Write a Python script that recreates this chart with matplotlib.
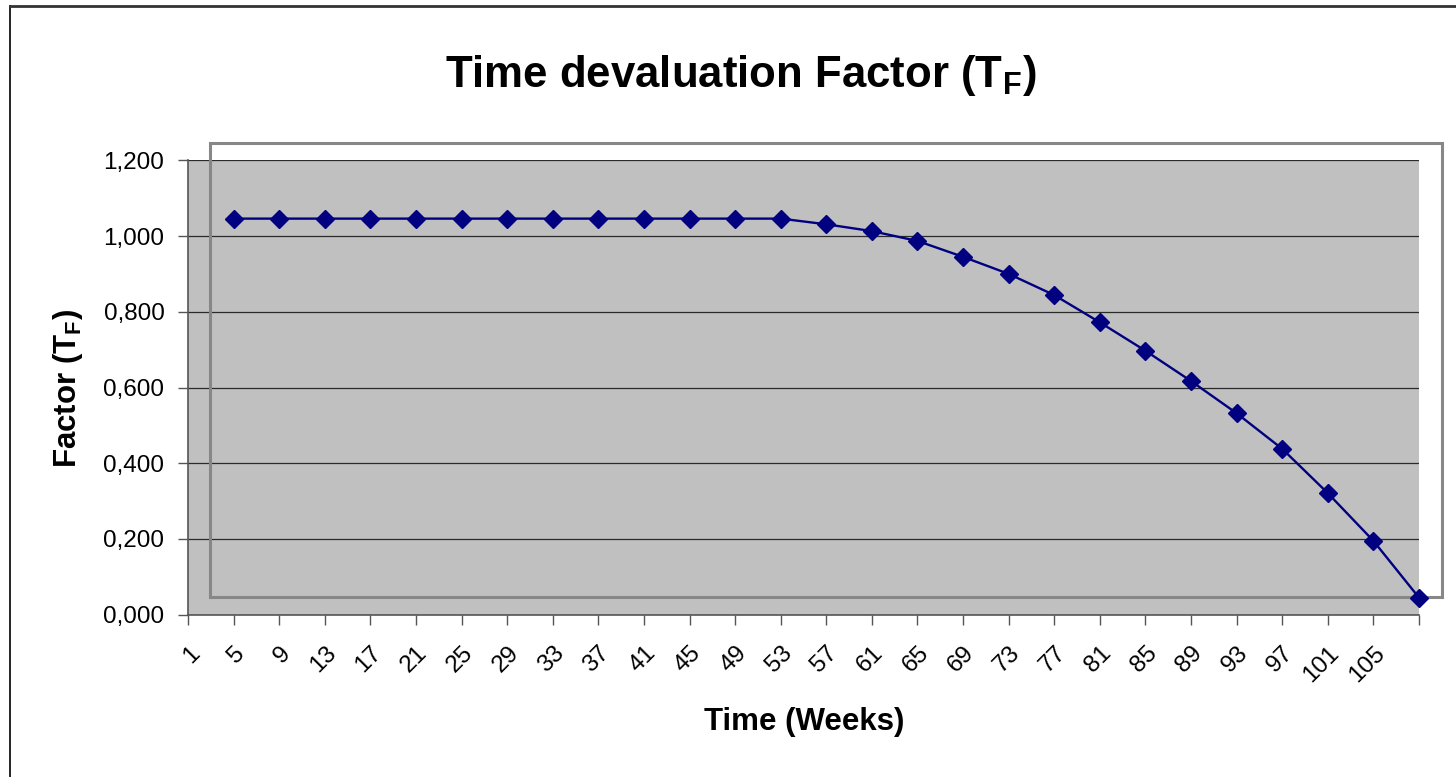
import matplotlib
matplotlib.use("Agg")
import matplotlib.pyplot as plt
from matplotlib.patches import Rectangle
from matplotlib.lines import Line2D
from matplotlib.transforms import ScaledTranslation

plt.rcParams['font.family'] = ['Liberation Sans', 'DejaVu Sans']
plt.rcParams['mathtext.fontset'] = 'custom'
plt.rcParams['mathtext.rm'] = 'Liberation Sans:bold'
plt.rcParams['mathtext.it'] = 'Liberation Sans:bold'
plt.rcParams['mathtext.bf'] = 'Liberation Sans:bold'

# Data
weeks = [5, 9, 13, 17, 21, 25, 29, 33, 37, 41, 45, 49, 53,
         57, 61, 65, 69, 73, 77, 81, 85, 89, 93, 97, 101, 105, 109]
factor = [1.046, 1.046, 1.046, 1.046, 1.046, 1.046, 1.046, 1.046, 1.046, 1.046, 1.046, 1.046, 1.046,
          1.031, 1.013, 0.987, 0.945, 0.900, 0.844, 0.772, 0.697, 0.617, 0.532, 0.438, 0.321, 0.195, 0.045]
tick_pos = list(range(1, 110, 4))
tick_labels = ['1', '5', '9', '13', '17', '21', '25', '29', '33', '37', '41', '45', '49', '53',
               '57', '61', '65', '69', '73', '77', '81', '85', '89', '93', '97', '101', '105', '']
y_ticks = [0.0, 0.2, 0.4, 0.6, 0.8, 1.0, 1.2]

W, H = 1456, 777
fig = plt.figure(figsize=(W / 100, H / 100), dpi=100)
ax = fig.add_axes([188 / W, 1 - 614.7 / H, (1419 - 188) / W, (614.7 - 160.3) / H])
ax.set_facecolor('#C0C0C0')

ax.plot(weeks, factor, color='#000080', lw=1.7, marker='D', ms=9,
        markeredgecolor='#000080', zorder=4, clip_on=False)

ax.set_xlim(1, 109)
ax.set_ylim(0, 1.2)
ax.set_yticks(y_ticks)
ax.set_yticklabels([f"{v:.3f}".replace('.', ',') for v in y_ticks])
ax.set_xticks(tick_pos)
ax.set_xticklabels(tick_labels, rotation=45, ha='right', va='center', rotation_mode='anchor')

ax.yaxis.grid(True, color='#2a2a2a', lw=0.9)
ax.set_axisbelow(True)
for s in ['top', 'right']:
    ax.spines[s].set_visible(False)
for s in ['left', 'bottom']:
    ax.spines[s].set_color('#555555')
    ax.spines[s].set_linewidth(1.2)
ax.tick_params(axis='y', length=7, width=1.0, color='#555555', labelsize=17.5, pad=10)
ax.tick_params(axis='x', length=7, width=1.0, color='#555555', labelsize=17.5, pad=14)

# nudge the slanted labels the way Excel places them (after tick_params, which resets transforms)
shift = ScaledTranslation(8 / 100, -6 / 100, fig.dpi_scale_trans)
for tick in ax.xaxis.get_major_ticks():
    tick.label1.set_transform(tick.label1.get_transform() + shift)

# odd offset frame left over from the original sheet
rect = Rectangle((210 / W, 1 - 597 / H), (1442 - 210) / W, (597 - 143) / H,
                 transform=fig.transFigure, fill=False, edgecolor='#878787', lw=2.2,
                 clip_on=False, zorder=3)
ax.add_artist(rect)

# chart area border (left and top only visible)
fig.add_artist(Line2D([10 / W, 10 / W], [0, 1 - 6 / H], color='black', lw=1.2))
fig.add_artist(Line2D([10 / W, 1], [1 - 6 / H, 1 - 6 / H], color='#333333', lw=2.0))

fig.text(741 / W, 1 - 75 / H, r'Time devaluation Factor ($\mathregular{T_F}$)',
         ha='center', va='center', fontsize=31.5, fontweight='bold')
fig.text(804 / W, 1 - 722 / H, 'Time (Weeks)', ha='center', va='center',
         fontsize=22.5, fontweight='bold')
fig.text(68 / W, 1 - 388 / H, r'Factor ($\mathregular{T_F}$)', ha='center', va='center',
         rotation=90, fontsize=22.5, fontweight='bold')

fig.savefig('out.png', dpi=100, facecolor='white')
